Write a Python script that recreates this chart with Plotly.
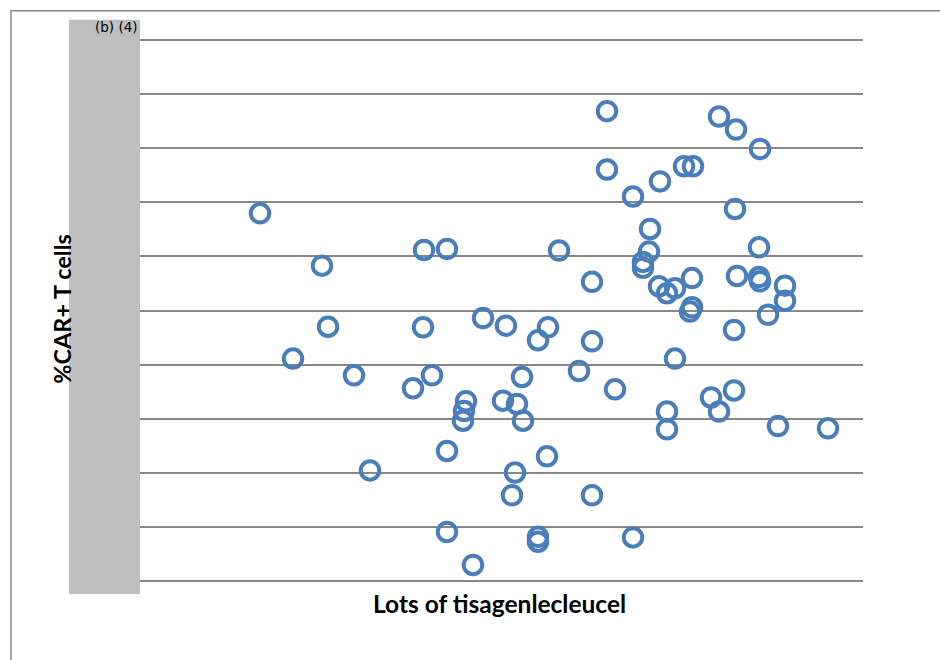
import plotly.graph_objects as go

# Lot position (arbitrary lot axis units) and %CAR+ T cells (gridline units)
lot_position = [120, 182, 188, 153, 214, 230, 284, 307, 283, 273, 292, 326, 324, 323, 307,
                307, 333, 343, 366, 363, 377, 382, 383, 375, 372, 398, 398, 407, 398, 408,
                419, 439, 452, 452, 452, 467, 467, 475, 493, 493, 503, 503, 509, 510, 520,
                519, 527, 535, 535, 544, 553, 552, 552, 550, 527, 527, 571, 579, 579, 596,
                595, 597, 594, 594, 620, 619, 619, 620, 628, 645, 645, 638, 688]
car_t_cells = [6.80, 5.83, 4.70, 4.11, 3.80, 2.04, 6.12, 6.14, 4.69, 3.56, 3.80, 3.32, 3.14, 2.96, 2.40,
               0.90, 0.29, 4.86, 4.72, 3.33, 3.27, 3.77, 2.96, 2.00, 1.58, 0.81, 0.72, 2.30, 4.45, 4.69,
               6.11, 3.88, 5.53, 4.43, 1.58, 8.69, 7.61, 3.54, 0.80, 7.11, 5.90, 5.79, 6.09, 6.51, 7.39,
               5.45, 5.32, 5.41, 4.11, 7.67, 7.67, 5.60, 5.06, 4.98, 3.13, 2.80, 3.39, 8.59, 3.13, 8.35,
               6.88, 5.64, 4.64, 3.52, 7.99, 6.17, 5.62, 5.54, 4.92, 5.46, 5.18, 2.86, 2.82]

x_title = "Lots of tisagenlecleucel"
y_title = "%CAR+ T cells"
redaction = "(b) (4)"

# Layout geometry (pixels)
W, H = 940, 660
L, R = 140, 863
Y_PAD = 0.1                      # extra data units above/below gridlines 0..10
UNIT = 54.0                      # pixels per gridline step
T = 40.7 - Y_PAD * UNIT
B = 580.7 + Y_PAD * UNIT
PW, PH = R - L, B - T

def fx(px):
    return (px - L) / PW

def fy(py):
    return (B - py) / PH

fig = go.Figure()
fig.add_trace(go.Scatter(
    x=lot_position, y=car_t_cells, mode="markers",
    marker=dict(symbol="circle-open", size=18.5, color="#4A7EBB",
                line=dict(width=4, color="#4A7EBB")),
    hoverinfo="skip", showlegend=False,
))

shapes = [
    dict(type="rect", xref="paper", yref="paper", x0=fx(69), x1=fx(140), y0=fy(594), y1=fy(20),
         fillcolor="#BFBFBF", line=dict(width=0), layer="below"),
    dict(type="line", xref="paper", yref="paper", x0=fx(10), x1=fx(941), y0=fy(11), y1=fy(11),
         line=dict(color="#8C8C8C", width=1.5)),
    dict(type="line", xref="paper", yref="paper", x0=fx(11), x1=fx(11), y0=fy(10.3), y1=fy(661),
         line=dict(color="#8C8C8C", width=1.5)),
]

annotations = [
    dict(text=redaction, xref="paper", yref="paper", x=fx(139.5), y=fy(27.5), xanchor="right",
         yanchor="middle", showarrow=False, font=dict(family="DejaVu Sans", size=13.5, color="#000")),
    dict(text=f"<b>{x_title}</b>", xref="paper", yref="paper", x=fx(499.5), y=fy(604),
         xanchor="center", yanchor="middle", showarrow=False,
         font=dict(family="Lato", size=24.5, color="#000")),
    dict(text=f"<b>{y_title}</b>", xref="paper", yref="paper", x=fx(62), y=fy(309),
         xanchor="center", yanchor="middle", showarrow=False, textangle=-90,
         font=dict(family="Lato", size=23.5, color="#000")),
]

fig.update_layout(
    width=W, height=H,
    margin=dict(l=L, r=W - R, t=T, b=H - B, pad=0),
    paper_bgcolor="white", plot_bgcolor="white",
    shapes=shapes, annotations=annotations,
    xaxis=dict(range=[0, PW], showgrid=False, zeroline=False, showticklabels=False,
               ticks="", showline=False, fixedrange=True),
    yaxis=dict(range=[-Y_PAD, 10 + Y_PAD], dtick=1, tick0=0, showgrid=True, gridcolor="#888888",
               gridwidth=1.6, zeroline=False, showticklabels=False, ticks="", showline=False,
               fixedrange=True),
)

fig.write_html("out.html")
